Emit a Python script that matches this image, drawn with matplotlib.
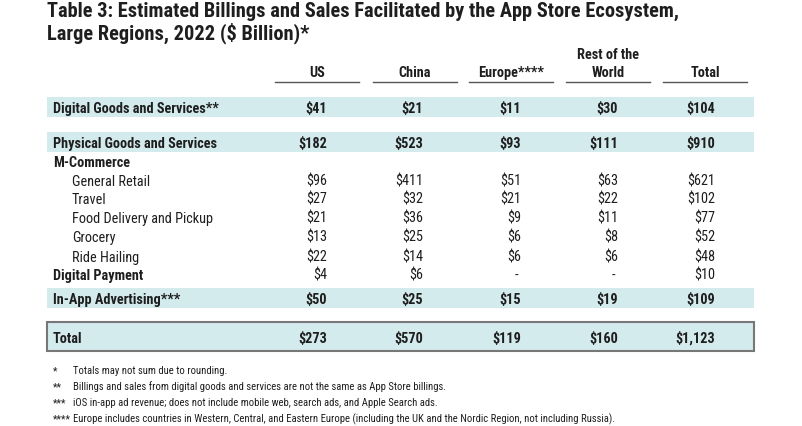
import matplotlib.pyplot as plt
from matplotlib.patches import Rectangle

# Data
columns = ["US", "China", "Europe****", "Rest of the\nWorld", "Total"]
row_labels = ["Digital Goods and Services**", "Physical Goods and Services", "M-Commerce",
              "General Retail", "Travel", "Food Delivery and Pickup", "Grocery", "Ride Hailing",
              "Digital Payment", "In-App Advertising***", "Total"]
us = [41, 182, None, 96, 27, 21, 13, 22, 4, 50, 273]
china = [21, 523, None, 411, 32, 36, 25, 14, 6, 25, 570]
europe = [11, 93, None, 51, 21, 9, 6, 6, "-", 15, 119]
rest_world = [30, 111, None, 63, 22, 11, 8, 6, "-", 19, 160]
total = [104, 910, None, 621, 102, 77, 52, 48, 10, 109, 1123]
footnotes = [("*", "Totals may not sum due to rounding."),
             ("**", "Billings and sales from digital goods and services are not the same as App Store billings."),
             ("***", "iOS in-app ad revenue; does not include mobile web, search ads, and Apple Search ads."),
             ("****", "Europe includes countries in Western, Central, and Eastern Europe (including the UK and the Nordic Region, not including Russia).")]

label_bold = [0, 1, 2, 8, 9, 10]
value_bold = [0, 1, 9, 10]
band_rows = [0, 1, 9]
row_y = [108, 143, 162, 181, 199, 218, 237, 257, 275, 299, 338]
col_right = [327, 423, 521, 618, 715]
col_center = [317, 415, 511, 608, 705]

FONT = ["Roboto Condensed", "Barlow Semi Condensed", "DejaVu Sans"]
INK = "#1e1e1e"
BAND = "#d4ebed"
FS = 10.3

fig = plt.figure(figsize=(8.03, 4.27), dpi=100)
ax = fig.add_axes([0, 0, 1, 1])
ax.set_xlim(0, 803)
ax.set_ylim(427, 0)
ax.axis("off")

# title
ax.text(47, 17, "Table 3: Estimated Billings and Sales Facilitated by the App Store Ecosystem,",
        family=FONT, fontsize=14.7, weight="bold", color=INK, va="baseline")
ax.text(47, 39, "Large Regions, 2022 ($ Billion)*",
        family=FONT, fontsize=14.7, weight="bold", color=INK, va="baseline")

# column headers
for i, c in enumerate(columns):
    lines = c.split("\n")
    for j, line in enumerate(reversed(lines)):
        ax.text(col_center[i], 77 - j * 18, line, family=FONT, fontsize=FS, weight="bold",
                color=INK, ha="center", va="baseline")
    ax.plot([col_center[i] - 42, col_center[i] + 42], [83, 83], color="#555555", lw=1)

# bands
for r in band_rows:
    ax.add_patch(Rectangle((47, row_y[r] - 10), 707, 20, facecolor=BAND, edgecolor="none"))
ax.add_patch(Rectangle((47, row_y[10] - 15), 707, 29, facecolor=BAND, edgecolor="#777777", lw=1.5))

# rows
for r, lab in enumerate(row_labels):
    y = row_y[r] + 5
    x = 53 if r in label_bold else 72
    ax.text(x, y, lab, family=FONT, fontsize=FS,
            weight="bold" if r in label_bold else "normal", color=INK, va="baseline")
    for i, col in enumerate([us, china, europe, rest_world, total]):
        v = col[r]
        if v is None:
            continue
        if v == "-":
            ax.text(col_right[i] - 3, y, "-", family=FONT, fontsize=FS, color=INK,
                    ha="right", va="baseline")
            continue
        ax.text(col_right[i], y, f"${v:,}", family=FONT, fontsize=FS,
                weight="bold" if r in value_bold else "normal", color=INK, ha="right", va="baseline")

# footnotes
for k, (mark, txt) in enumerate(footnotes):
    y = 374.5 + k * 16
    ax.text(53, y, mark, family=FONT, fontsize=7.7, color=INK, va="baseline")
    ax.text(73, y, txt, family=FONT, fontsize=7.7, color=INK, va="baseline")

fig.savefig("out.png", dpi=100, facecolor="white")
